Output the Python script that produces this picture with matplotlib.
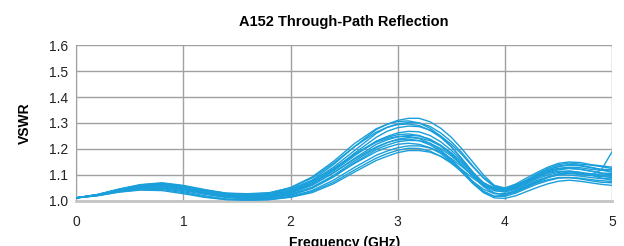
import matplotlib
matplotlib.use('Agg')
import matplotlib.pyplot as plt

plt.rcParams['font.family'] = ['Liberation Sans', 'DejaVu Sans']

# frequency points (GHz): 0.2 steps up to 2.8, then 0.1 steps
freq = [0.0, 0.2, 0.4, 0.6, 0.8, 1.0, 1.2, 1.4, 1.6, 1.8, 2.0, 2.2, 2.4, 2.6, 2.8,
        2.9, 3.0, 3.1, 3.2, 3.3, 3.4, 3.5, 3.6, 3.7, 3.8, 3.9, 4.0,
        4.1, 4.2, 4.3, 4.4, 4.5, 4.6, 4.7, 4.8, 4.9, 5.0]

# VSWR of each measured unit
vswr1 = [1.012,1.025,1.045,1.062,1.068,1.058,1.040,1.026,1.020,1.025,1.045,1.080,1.140,1.210,1.275,
         1.295,1.310,1.318,1.318,1.305,1.280,1.245,1.200,1.150,1.100,1.060,1.045,1.050,1.065,1.085,1.100,1.110,1.115,1.110,1.105,1.100,1.100]
vswr2 = [1.012,1.024,1.043,1.060,1.066,1.055,1.038,1.024,1.018,1.022,1.040,1.075,1.130,1.195,1.260,
         1.283,1.297,1.302,1.300,1.287,1.262,1.228,1.185,1.135,1.088,1.055,1.045,1.055,1.075,1.098,1.118,1.132,1.138,1.135,1.128,1.122,1.120]
vswr3 = [1.012,1.024,1.044,1.058,1.064,1.056,1.042,1.030,1.028,1.032,1.050,1.088,1.145,1.210,1.265,
         1.283,1.294,1.296,1.290,1.272,1.245,1.208,1.162,1.112,1.068,1.040,1.035,1.045,1.060,1.078,1.092,1.102,1.108,1.104,1.098,1.120,1.190]
vswr4 = [1.012,1.023,1.042,1.056,1.062,1.050,1.034,1.020,1.015,1.018,1.035,1.068,1.120,1.185,1.245,
         1.268,1.282,1.288,1.286,1.273,1.250,1.218,1.178,1.132,1.090,1.060,1.050,1.060,1.080,1.104,1.125,1.140,1.146,1.142,1.138,1.132,1.125]
vswr5 = [1.012,1.023,1.040,1.055,1.060,1.052,1.038,1.025,1.020,1.022,1.038,1.070,1.120,1.180,1.230,
         1.245,1.255,1.258,1.252,1.236,1.212,1.178,1.138,1.095,1.055,1.030,1.025,1.035,1.055,1.075,1.092,1.105,1.112,1.108,1.100,1.094,1.090]
vswr6 = [1.012,1.022,1.040,1.052,1.058,1.048,1.032,1.018,1.012,1.015,1.030,1.060,1.108,1.165,1.218,
         1.235,1.247,1.252,1.250,1.238,1.215,1.185,1.148,1.105,1.068,1.045,1.042,1.055,1.078,1.100,1.120,1.135,1.140,1.138,1.130,1.120,1.110]
vswr7 = [1.012,1.024,1.043,1.058,1.063,1.054,1.040,1.028,1.024,1.028,1.045,1.078,1.125,1.180,1.226,
         1.240,1.248,1.248,1.240,1.222,1.196,1.160,1.118,1.075,1.038,1.018,1.018,1.030,1.048,1.065,1.078,1.088,1.090,1.088,1.082,1.078,1.075]
vswr8 = [1.012,1.022,1.038,1.050,1.055,1.046,1.030,1.016,1.010,1.012,1.025,1.052,1.098,1.155,1.205,
         1.224,1.238,1.244,1.242,1.232,1.212,1.183,1.146,1.105,1.070,1.050,1.050,1.065,1.088,1.110,1.130,1.145,1.150,1.148,1.140,1.135,1.130]
vswr9 = [1.012,1.023,1.041,1.054,1.058,1.048,1.034,1.022,1.018,1.020,1.034,1.062,1.108,1.162,1.208,
         1.225,1.235,1.238,1.232,1.216,1.190,1.155,1.112,1.068,1.032,1.012,1.010,1.020,1.036,1.052,1.066,1.076,1.080,1.076,1.070,1.064,1.060]
vswr10 = [1.012,1.022,1.039,1.051,1.054,1.044,1.028,1.014,1.008,1.010,1.022,1.048,1.092,1.148,1.198,
          1.215,1.228,1.233,1.232,1.222,1.202,1.173,1.138,1.098,1.062,1.040,1.035,1.048,1.068,1.090,1.108,1.120,1.125,1.122,1.115,1.105,1.100]
vswr11 = [1.012,1.022,1.038,1.048,1.050,1.040,1.026,1.014,1.010,1.012,1.026,1.052,1.095,1.145,1.190,
          1.206,1.218,1.222,1.218,1.205,1.183,1.150,1.110,1.068,1.035,1.018,1.022,1.038,1.058,1.078,1.092,1.100,1.100,1.096,1.090,1.086,1.085]
vswr12 = [1.012,1.021,1.036,1.046,1.048,1.036,1.020,1.008,1.004,1.006,1.018,1.040,1.080,1.130,1.176,
          1.192,1.205,1.212,1.212,1.204,1.188,1.163,1.132,1.097,1.068,1.050,1.048,1.060,1.080,1.100,1.116,1.126,1.130,1.128,1.122,1.118,1.115]
vswr13 = [1.012,1.021,1.035,1.044,1.044,1.032,1.016,1.006,1.004,1.006,1.016,1.036,1.072,1.120,1.165,
          1.182,1.195,1.203,1.202,1.192,1.172,1.145,1.112,1.075,1.045,1.028,1.028,1.040,1.055,1.070,1.082,1.090,1.090,1.085,1.078,1.072,1.070]
vswr14 = [1.012,1.020,1.034,1.042,1.040,1.028,1.014,1.005,1.003,1.005,1.014,1.032,1.066,1.112,1.156,
          1.172,1.186,1.194,1.194,1.188,1.172,1.150,1.120,1.088,1.060,1.045,1.045,1.058,1.075,1.092,1.106,1.114,1.115,1.110,1.100,1.088,1.080]
vswr15 = [1.012,1.025,1.046,1.063,1.070,1.060,1.044,1.030,1.025,1.030,1.052,1.092,1.152,1.222,1.278,
          1.295,1.306,1.308,1.300,1.280,1.250,1.210,1.160,1.108,1.060,1.030,1.025,1.035,1.052,1.072,1.090,1.102,1.106,1.102,1.098,1.096,1.095]
vswr16 = [1.012,1.023,1.042,1.057,1.062,1.052,1.036,1.022,1.016,1.018,1.034,1.066,1.115,1.175,1.230,
          1.248,1.262,1.268,1.266,1.252,1.228,1.195,1.155,1.110,1.070,1.045,1.040,1.052,1.072,1.094,1.112,1.124,1.126,1.122,1.115,1.108,1.105]

curves = [vswr1, vswr2, vswr3, vswr4, vswr5, vswr6, vswr7, vswr8,
          vswr9, vswr10, vswr11, vswr12, vswr13, vswr14, vswr15, vswr16]

xticks = [0, 1, 2, 3, 4, 5]
yticks = [1.0, 1.1, 1.2, 1.3, 1.4, 1.5, 1.6]

fig = plt.figure(figsize=(6.24, 2.46), dpi=100)
ax = fig.add_axes([0.122, 0.183, 0.859, 0.634])

for c in curves:
    ax.plot(freq, c, color='#1a9fdb', lw=1.0, zorder=3)

ax.set_xlim(0, 5)
ax.set_ylim(1.0, 1.6)
ax.set_xticks(xticks)
ax.set_yticks(yticks)
ax.set_yticklabels(['%.1f' % v for v in yticks])
ax.tick_params(length=0, labelsize=10, colors='#222222', pad=6)
ax.tick_params(axis='x', pad=10)
ax.grid(True, color='#a0a0a0', lw=1.0, zorder=1)

for s in ['top', 'right']:
    ax.spines[s].set_visible(False)
ax.spines['left'].set_color('#a0a0a0')
ax.spines['bottom'].set_color('#c4c4c4')
ax.spines['bottom'].set_linewidth(2)

ax.set_title('A152 Through-Path Reflection', fontsize=10.5, fontweight='bold', pad=14)
ax.set_ylabel('VSWR', fontsize=10, fontweight='bold', labelpad=12)
ax.set_xlabel('Frequency (GHz)', fontsize=10, fontweight='bold', labelpad=5)

fig.savefig('out.png', dpi=100)
